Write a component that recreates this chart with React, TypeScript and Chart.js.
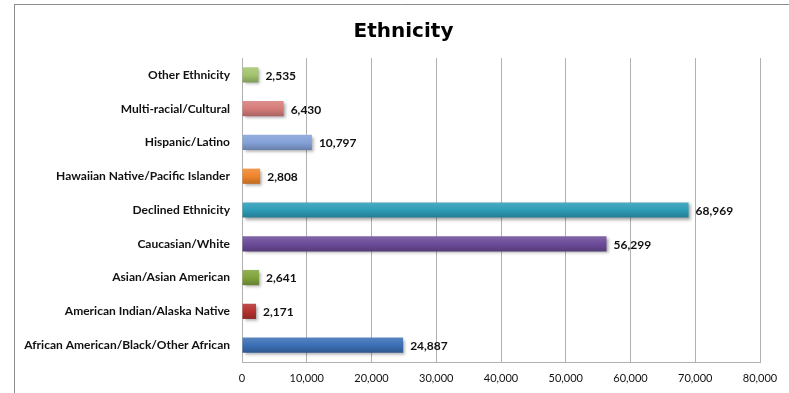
import React, { useEffect, useRef } from "react";
import { Chart, registerables } from "chart.js";

Chart.register(...registerables);

const categories = [
  "Other Ethnicity",
  "Multi-racial/Cultural",
  "Hispanic/Latino",
  "Hawaiian Native/Pacific Islander",
  "Declined Ethnicity",
  "Caucasian/White",
  "Asian/Asian American",
  "American Indian/Alaska Native",
  "African American/Black/Other African",
];

const values = [2535, 6430, 10797, 2808, 68969, 56299, 2641, 2171, 24887];

const barColors = [
  "#a2c46e",
  "#d67c7a",
  "#84a1d8",
  "#f0852c",
  "#2e9cb8",
  "#6c4c99",
  "#80a43c",
  "#b53230",
  "#3b6fb5",
];

const xTicks = [0, 10000, 20000, 30000, 40000, 50000, 60000, 70000, 80000];

const titleText = "Ethnicity";

function shade(hex: string, f: number): string {
  const n = parseInt(hex.slice(1), 16);
  let r = (n >> 16) & 255, g = (n >> 8) & 255, b = n & 255;
  if (f >= 0) {
    r = r + (255 - r) * f; g = g + (255 - g) * f; b = b + (255 - b) * f;
  } else {
    r = r * (1 + f); g = g * (1 + f); b = b * (1 + f);
  }
  return `rgb(${Math.round(r)},${Math.round(g)},${Math.round(b)})`;
}

const fmt = (v: number) => v.toLocaleString("en-US");

export default function App() {
  const ref = useRef<HTMLCanvasElement | null>(null);

  useEffect(() => {
    if (!ref.current) return;

    const framePlugin = {
      id: "frame",
      beforeDraw(chart: any) {
        const ctx = chart.ctx;
        ctx.save();
        ctx.strokeStyle = "#8c8c8c";
        ctx.lineWidth = 1;
        ctx.beginPath();
        ctx.moveTo(14, 4.5);
        ctx.lineTo(789, 4.5);
        ctx.moveTo(14.5, 4);
        ctx.lineTo(14.5, 393);
        ctx.stroke();
        ctx.font = "bold 20px 'DejaVu Sans'";
        ctx.fillStyle = "#000";
        ctx.textAlign = "center";
        ctx.textBaseline = "middle";
        ctx.fillText(titleText, 403.5, 32);
        ctx.restore();
      },
    };

    const shadowPlugin = {
      id: "barShadow",
      beforeDatasetDraw(chart: any) {
        const ctx = chart.ctx;
        ctx.save();
        ctx.shadowColor = "rgba(0,0,0,0.35)";
        ctx.shadowOffsetX = 2;
        ctx.shadowOffsetY = 2;
        ctx.shadowBlur = 3;
      },
      afterDatasetDraw(chart: any) {
        chart.ctx.restore();
      },
    };

    const labelPlugin = {
      id: "valueLabels",
      afterDatasetsDraw(chart: any) {
        const ctx = chart.ctx;
        const meta = chart.getDatasetMeta(0);
        ctx.save();
        ctx.font = "bold 12px Lato";
        ctx.fillStyle = "#111";
        ctx.textAlign = "left";
        ctx.textBaseline = "middle";
        meta.data.forEach((el: any, i: number) => {
          ctx.fillText(fmt(values[i]), el.x + 7, el.y + 1);
        });
        ctx.restore();
      },
    };

    const chart = new Chart(ref.current, {
      type: "bar",
      data: {
        labels: categories,
        datasets: [
          {
            data: values,
            backgroundColor: (c: any) => {
              const ch = c.chart;
              const y = ch.scales?.y;
              const base = barColors[c.dataIndex];
              if (!y || !ch.chartArea) return base;
              const yc = y.getPixelForValue(c.dataIndex);
              if (!Number.isFinite(yc)) return base;
              const g = ch.ctx.createLinearGradient(0, yc - 8, 0, yc + 8);
              g.addColorStop(0, shade(base, 0.15));
              g.addColorStop(0.5, base);
              g.addColorStop(1, shade(base, -0.22));
              return g;
            },
            borderWidth: 0,
            barPercentage: 0.9,
            categoryPercentage: 0.5,
          },
        ],
      },
      options: {
        indexAxis: "y",
        responsive: false,
        animation: false,
        maintainAspectRatio: false,
        layout: { padding: { left: 0, right: 29, top: 58, bottom: 0 } },
        plugins: {
          legend: { display: false },
          tooltip: { enabled: false },
          title: { display: false },
        },
        scales: {
          x: {
            min: 0,
            max: 80000,
            afterBuildTicks: (s: any) => {
              s.ticks = xTicks.map((v) => ({ value: v }));
            },
            afterFit: (s: any) => {
              s.height = 31;
            },
            ticks: {
              padding: 10,
              color: "#111",
              font: { family: "Lato", size: 11 },
              callback: (v: any) => fmt(Number(v)),
              maxRotation: 0,
            },
            grid: { color: "#b0b0b0", drawTicks: false, lineWidth: 1 },
            border: { display: true, color: "#b0b0b0" },
          },
          y: {
            afterFit: (s: any) => {
              s.width = 242;
            },
            ticks: {
              padding: 12,
              color: "#111",
              font: { family: "Lato", size: 12, weight: "bold" },
            },
            grid: { display: false, drawTicks: false },
            border: { display: true, color: "#b0b0b0" },
          },
        },
      },
      plugins: [framePlugin, shadowPlugin, labelPlugin],
    } as any);

    return () => chart.destroy();
  }, []);

  return (
    <div style={{ position: "absolute", left: 0, top: 0, width: 789, height: 393, background: "#fff" }}>
      <canvas ref={ref} width={789} height={393} style={{ display: "block" }} />
    </div>
  );
}
